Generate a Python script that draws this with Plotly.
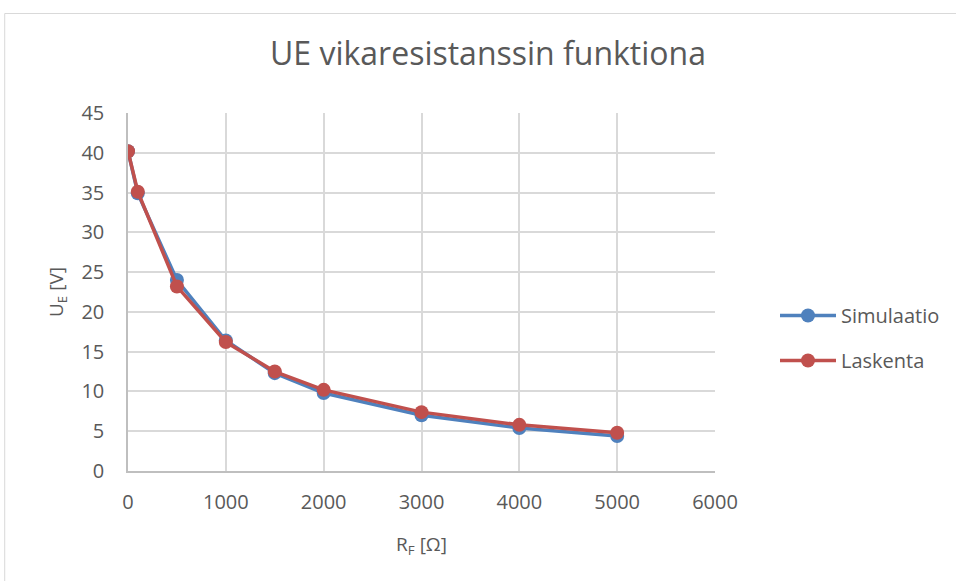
import plotly.graph_objects as go

rf = [0, 100, 500, 1000, 1500, 2000, 3000, 4000, 5000]
simulaatio = [40.2, 34.9, 24.0, 16.4, 12.3, 9.8, 7.0, 5.4, 4.4]
laskenta = [40.2, 35.1, 23.2, 16.2, 12.5, 10.2, 7.4, 5.8, 4.8]
x_ticks = [0, 1000, 2000, 3000, 4000, 5000, 6000]
y_ticks = [0, 5, 10, 15, 20, 25, 30, 35, 40, 45]

W, H = 956, 581
L, R, T, B = 128, 716, 113, 471
FONT = "Open Sans"
GREY = "#595959"

fig = go.Figure()
fig.add_trace(go.Scatter(x=rf, y=simulaatio, mode="lines+markers", name="Simulaatio",
                         line=dict(color="#4F81BD", width=3.5),
                         marker=dict(color="#4F81BD", size=14), legendgroup="a"))
fig.add_trace(go.Scatter(x=rf, y=laskenta, mode="lines+markers", name="Laskenta",
                         line=dict(color="#C0504D", width=3.5),
                         marker=dict(color="#C0504D", size=14), legendgroup="b"))

def px2x(p):
    return (p - L) / (R - L)

def px2y(p):
    return (B - p) / (B - T)

fig.update_layout(
    width=W, height=H,
    margin=dict(l=L, r=W - R, t=T, b=H - B, pad=0),
    paper_bgcolor="white", plot_bgcolor="white",
    font=dict(family=FONT, color=GREY, size=20),
    title=dict(text="UE vikaresistanssin funktiona", x=488 / W, xref="container", xanchor="center",
               y=1 - 54 / H, yref="container", yanchor="middle",
               font=dict(size=32, color=GREY, family=FONT)),
    xaxis=dict(range=[0, 6000], tickvals=x_ticks,
               showgrid=True, gridcolor="#D9D9D9", gridwidth=1.5, zeroline=False,
               showline=True, linecolor="#BFBFBF", linewidth=1.5,
               ticks="", ticklabelstandoff=12, tickfont=dict(size=20, color=GREY),
               title=dict(text="R<sub>F</sub> [Ω]", font=dict(size=19, color=GREY), standoff=24)),
    yaxis=dict(range=[0, 45], tickvals=y_ticks,
               showgrid=True, gridcolor="#D9D9D9", gridwidth=1.5, zeroline=False,
               showline=True, linecolor="#BFBFBF", linewidth=1.5,
               ticks="", ticklabelstandoff=18, tickfont=dict(size=20, color=GREY),
               title=dict(text="U<sub>E</sub> [V]", font=dict(size=19, color=GREY), standoff=13)),
    legend=dict(x=px2x(775), y=px2y(296), xanchor="left", yanchor="top",
                font=dict(size=20, color=GREY), traceorder="grouped", tracegroupgap=16,
                itemwidth=56, bgcolor="rgba(0,0,0,0)"),
    showlegend=True,
)

fig.add_shape(type="rect", xref="paper", yref="paper",
              x0=px2x(4.5), x1=px2x(990), y0=px2y(13.5), y1=px2y(620),
              line=dict(color="#D9D9D9", width=1), layer="below")

fig.write_html("out.html", config={"displayModeBar": False},
               post_script="document.body.style.margin='0px';")
